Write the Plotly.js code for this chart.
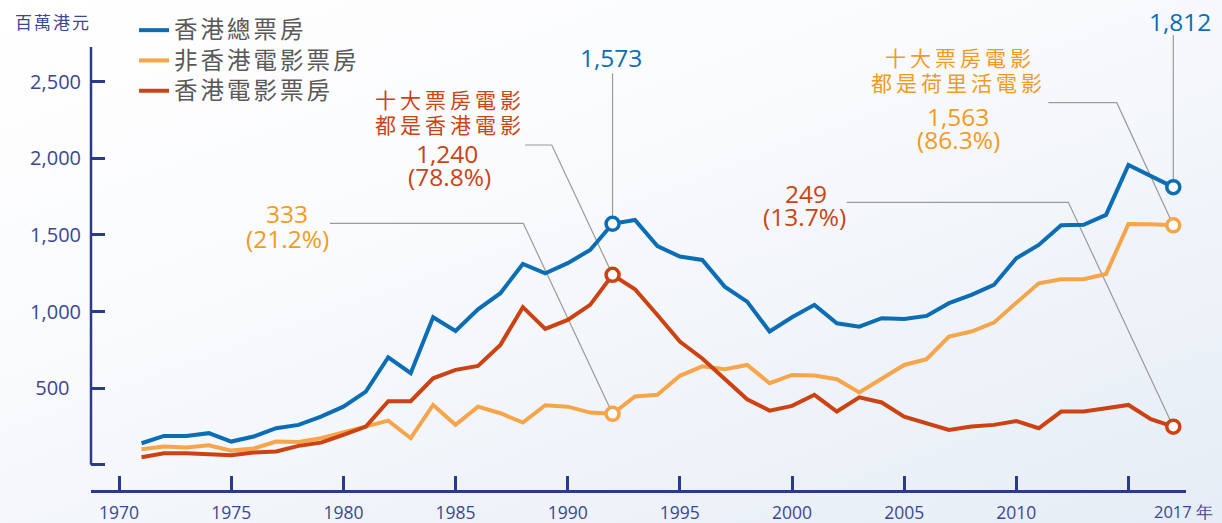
<!DOCTYPE html>
<html><head><meta charset="utf-8">
<script src="https://cdn.plot.ly/plotly-3.0.1.min.js"></script>
<style>
html,body{margin:0;padding:0;}
body{width:1222px;height:523px;overflow:hidden;background:linear-gradient(160deg,#ffffff 0%,#fafbfd 35%,#e6edf6 100%);}
#chart{width:1222px;height:523px;}
.legendtext{font-size:23.5px !important;letter-spacing:3px;}
g.annotation[data-index="0"] text{letter-spacing:2px;}
g.annotation[data-index="1"] text,g.annotation[data-index="2"] text,g.annotation[data-index="3"] text,g.annotation[data-index="4"] text{letter-spacing:4px;}
</style></head>
<body><div id="chart"></div>
<script>
// ---- data (百萬港元) ----
const years = [1971,1972,1973,1974,1975,1976,1977,1978,1979,1980,1981,1982,1983,1984,1985,1986,1987,1988,1989,1990,1991,1992,1993,1994,1995,1996,1997,1998,1999,2000,2001,2002,2003,2004,2005,2006,2007,2008,2009,2010,2011,2012,2013,2014,2015,2016,2017];
const totalBoxOffice = [141,189,189,207,152,185,239,261,315,380,478,702,598,963,874,1015,1120,1311,1250,1316,1402,1573,1598,1428,1359,1337,1163,1065,870,963,1044,924,902,957,952,972,1055,1109,1174,1348,1435,1563,1567,1631,1957,1881,1812];
const nonHKBoxOffice = [102,120,113,128,93,107,152,150,174,211,250,289,174,391,261,380,337,276,389,380,341,333,446,457,581,643,624,652,533,587,583,559,472,559,652,689,837,870,928,1057,1185,1211,1211,1246,1572,1570,1563];
const hkBoxOffice = [50,76,76,72,63,80,87,124,145,196,250,415,415,565,620,646,783,1029,887,946,1044,1240,1146,978,804,694,559,428,354,385,457,348,441,407,315,272,228,250,261,286,239,348,348,370,391,298,249];
const seriesNames = ['香港總票房','非香港電影票房','香港電影票房'];
const highlightYears = [1992, 2017];
const xTickVals = [1970,1975,1980,1985,1990,1995,2000,2005,2010,2015];
const xTickText = ['1970','1975','1980','1985','1990','1995','2000','2005','2010',''];
const yTickVals = [0,500,1000,1500,2000,2500];
const yTickText = ['','500\u2007','1,000','1,500','2,000','2,500'];

const BLUE='#0b6db3', ORANGE='#f7a54b', RED='#cc4213';
const ORANGE_TXT='#f39a1f', RED_TXT='#cc4314', BLUE_TXT='#0b6db3', NAVY='#2c3a8c', NAVY_TXT='#3b4795';
const NUM_FONT='Open Sans', CJK_FONT='Noto Sans CJK TC';
const X_RANGE=[1968.747, 2017.566], Y_RANGE=[-164, 2968];

const seriesVals=[totalBoxOffice, nonHKBoxOffice, hkBoxOffice];
const colors=[BLUE, ORANGE, RED];
const pick=(arr,yr)=>arr[years.indexOf(yr)];
const py=(v)=>(v-Y_RANGE[0])/(Y_RANGE[1]-Y_RANGE[0]);

const traces=[];
seriesVals.forEach((vals,i)=>{
  traces.push({x:years,y:vals,type:'scatter',mode:'lines',name:seriesNames[i],
    line:{color:colors[i],width:4},hoverinfo:'x+y',legendgroup:'g'+i});
});
seriesVals.forEach((vals,i)=>{
  traces.push({x:highlightYears,y:highlightYears.map(y=>pick(vals,y)),type:'scatter',mode:'markers',
    showlegend:false,hoverinfo:'skip',
    marker:{symbol:'circle',size:13,color:'#ffffff',line:{width:3.5,color:colors[i]}}});
});

const numFont=(c)=>({family:NUM_FONT,size:24.5,color:c});
const cjkFont=(c)=>({family:CJK_FONT,size:21,color:c});
const ann=(text,x,y,font,extra)=>Object.assign({text:text,x:x,y:y,xref:'x',yref:'y',showarrow:false,xanchor:'center',yanchor:'middle',font:font},extra||{});

const annotations=[
  ann('百萬港元',-0.0347,0.977,{family:CJK_FONT,size:17,color:NAVY_TXT},{xref:'paper',yref:'paper'}),
  ann('十大票房電影',1984.75,2388,cjkFont(RED_TXT)),
  ann('都是香港電影',1984.75,2225,cjkFont(RED_TXT)),
  ann('十大票房電影',2007.49,2663,cjkFont(ORANGE_TXT)),
  ann('都是荷里活電影',2007.44,2500,cjkFont(ORANGE_TXT)),
  ann('1,573',1991.93,2659,numFont(BLUE_TXT)),
  ann('1,812',2017.30,2891,numFont(BLUE_TXT)),
  ann('1,240',1984.64,2029,numFont(RED_TXT)),
  ann('(78.8%)',1984.75,1880,numFont(RED_TXT)),
  ann('333',1977.49,1637,numFont(ORANGE_TXT)),
  ann('(21.2%)',1977.51,1477,numFont(ORANGE_TXT)),
  ann('249',2000.62,1772,numFont(RED_TXT)),
  ann('(13.7%)',2000.57,1619,numFont(RED_TXT)),
  ann('1,563',2007.38,2276,numFont(ORANGE_TXT)),
  ann('(86.3%)',2007.44,2123,numFont(ORANGE_TXT)),
  ann('2017 年',2017.46,-0.045,{family:NUM_FONT,size:16.5,color:NAVY_TXT},{yref:'paper',borderpad:0})
];

const lead=(pts)=>({type:'path',xref:'x',yref:'y',layer:'below',
  path:'M'+pts.map(p=>p[0]+','+p[1]).join(' L'),line:{color:'#9a9a9a',width:1.2}});
const shapes=[
  // y axis line
  {type:'line',xref:'paper',yref:'paper',x0:0,x1:0,y0:py(0),y1:py(2726),line:{color:NAVY,width:2.5}},
  lead([[1992,2555],[1992,pick(totalBoxOffice,1992)]]),
  lead([[2017,2805],[2017,pick(totalBoxOffice,2017)]]),
  lead([[1988.10,2087],[1989.29,2087],[1992,pick(hkBoxOffice,1992)]]),
  lead([[1979.40,1576],[1988.02,1576],[1992,pick(nonHKBoxOffice,1992)]]),
  lead([[2002.44,1713],[2012.32,1713],[2017,pick(hkBoxOffice,2017)]]),
  lead([[2011.43,2363],[2014.48,2363],[2017,pick(nonHKBoxOffice,2017)]])
];

const layout={
  width:1222,height:523,
  margin:{l:91,r:36,t:10,b:33,pad:0},
  paper_bgcolor:'rgba(0,0,0,0)',plot_bgcolor:'rgba(0,0,0,0)',
  showlegend:true,
  legend:{x:0.0393,xanchor:'left',y:1.0,yanchor:'top',bgcolor:'rgba(0,0,0,0)',
    font:{family:CJK_FONT,size:21,color:'#595959'},itemwidth:30,tracegroupgap:0,traceorder:'normal'},
  xaxis:{range:X_RANGE,showgrid:false,zeroline:false,showline:true,linecolor:NAVY,linewidth:2.5,
    ticks:'inside',ticklen:14,tickwidth:2.5,tickcolor:NAVY,tickmode:'array',tickvals:xTickVals,ticktext:xTickText,
    tickfont:{family:NUM_FONT,size:17.5,color:NAVY_TXT},ticklabelstandoff:5,fixedrange:true},
  yaxis:{range:Y_RANGE,showgrid:false,zeroline:false,showline:false,
    ticks:'inside',ticklen:14,tickwidth:2.5,tickcolor:NAVY,tickmode:'array',tickvals:yTickVals,ticktext:yTickText,
    tickfont:{family:NUM_FONT,size:20,color:NAVY_TXT},ticklabelstandoff:9,fixedrange:true},
  annotations:annotations,shapes:shapes,hovermode:'closest'
};
Plotly.newPlot('chart',traces,layout,{displayModeBar:false,responsive:false});
</script></body></html>
